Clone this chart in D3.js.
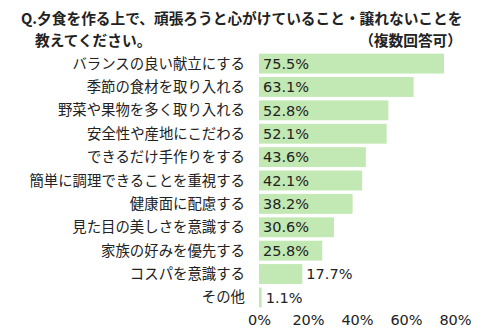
<!DOCTYPE html>
<html><head><meta charset="utf-8">
<script src="https://cdn.jsdelivr.net/npm/d3@7"></script>
<style>body{margin:0;background:#fff}svg{display:block}</style>
</head><body>
<script>
const categories = ["バランスの良い献立にする","季節の食材を取り入れる","野菜や果物を多く取り入れる","安全性や産地にこだわる","できるだけ手作りをする","簡単に調理できることを重視する","健康面に配慮する","見た目の美しさを意識する","家族の好みを優先する","コスパを意識する","その他"];
const values = [75.5,63.1,52.8,52.1,43.6,42.1,38.2,30.6,25.8,17.7,1.1];
const ticks = [0,20,40,60,80];
const titleLines = ["Q.夕食を作る上で、頑張ろうと心がけていること・譲れないことを","教えてください。"];
const note = "（複数回答可）";

const W=500,H=330;
const svg=d3.select("body").append("svg").attr("width",W).attr("height",H);
const x=d3.scaleLinear().domain([0,80]).range([259,455]);
const y=d3.scaleBand().domain(categories).range([52,309]).paddingInner(0.15).paddingOuter(0.07);
const jp="'Noto Sans CJK JP','Noto Sans',sans-serif";
const num="'DejaVu Sans',Verdana,sans-serif";

const title=svg.append("g").attr("font-family",jp).attr("font-weight","bold").attr("font-size",14.7).attr("fill","#222");
title.append("text").attr("x",21).attr("y",24).text(titleLines[0]);
title.append("text").attr("x",35).attr("y",45.5).text(titleLines[1]);
title.append("text").attr("x",462).attr("y",45.5).attr("text-anchor","end").text(note);

svg.selectAll("rect.bar").data(values).join("rect").attr("class","bar")
  .attr("x",x(0)).attr("y",(d,i)=>y(categories[i])).attr("width",d=>x(d)-x(0)).attr("height",y.bandwidth())
  .attr("fill","#c2e8b3");

svg.selectAll("text.cat").data(categories).join("text").attr("class","cat")
  .attr("x",245).attr("y",d=>y(d)+y.bandwidth()/2).attr("dy","0.35em").attr("text-anchor","end")
  .attr("font-family",jp).attr("font-size",14.4).attr("fill","#222").text(d=>d);

svg.selectAll("text.val").data(values).join("text").attr("class","val")
  .attr("x",d=>d>=20?x(0)+4:x(d)+4).attr("y",(d,i)=>y(categories[i])+y.bandwidth()/2).attr("dy","0.36em")
  .attr("font-family",num).attr("font-size",14.5).attr("fill","#222").text(d=>d.toFixed(1)+"%");

const ax=svg.append("g").attr("transform","translate(0,312)")
  .call(d3.axisBottom(x).tickValues(ticks).tickFormat(d=>d+"%").tickSize(0).tickPadding(0));
ax.select(".domain").remove();
ax.selectAll("text").attr("font-family",num).attr("font-size",14.5).attr("fill","#222").attr("dy","0.9em");
</script>
</body></html>
